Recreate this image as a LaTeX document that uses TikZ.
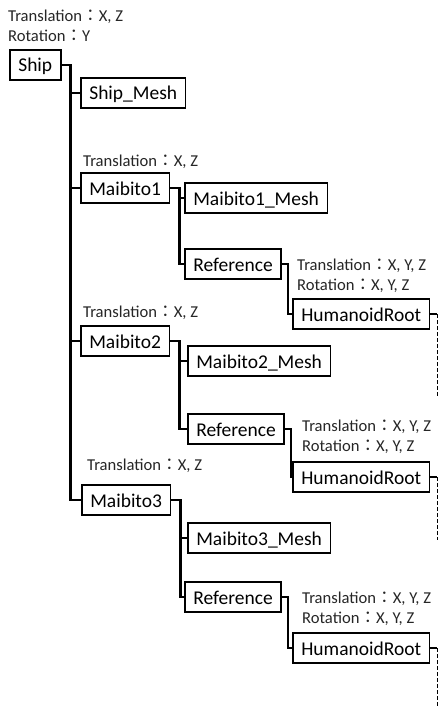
\documentclass[tikz,border=0pt]{standalone}
\usepackage{fontspec}
\setmainfont{Carlito}
\newfontfamily\cjk{Noto Sans CJK JP}
\usepackage{tikz}
\usetikzlibrary{calc}
\newcommand{\fwc}{{\cjk ：}}
\tikzset{
	objbox/.style={draw, line width=1.6pt, anchor=west, font=\fontsize{19.5}{20}\selectfont,
		inner xsep=8.5pt, inner ysep=5pt, text height=17pt, text depth=3pt, minimum height=30pt},
	conn/.style={line width=2.8pt},
	dashline/.style={line width=1.1pt, dash pattern=on 4pt off 2pt},
	attr/.style={anchor=base west, inner sep=0pt, text=black!85, font=\fontsize{16.6}{20}\selectfont}
}

\begin{document}
\begin{tikzpicture}[x=1pt, y=-1pt]
			%%%%% START %%%%%
			\useasboundingbox (0, 0) rectangle (441, 714);
			
			\node[attr] (shipt) at (8, 22) {Translation\fwc X, Z};
			\node[attr] (shipr) at (8, 42) {Rotation\fwc Y};
			\node[objbox] (ship) at (9, 65) {Ship};
			\node[objbox] (mesh0) at (80, 93) {Ship\_Mesh};
			
			\node[attr] (m1t) at (83, 167) {Translation\fwc X, Z};
			\node[objbox] (m1) at (80, 188) {Maibito1};
			\node[objbox] (mesh1) at (184, 198) {Maibito1\_Mesh};
			\node[objbox] (ref1) at (184, 264) {Reference};
			\node[attr] (r1t) at (297, 270) {Translation\fwc X, Y, Z};
			\node[attr] (r1r) at (297, 290) {Rotation\fwc X, Y, Z};
			\node[objbox] (hr1) at (292, 314) {HumanoidRoot};
			
			\node[attr] (m2t) at (83, 317) {Translation\fwc X, Z};
			\node[objbox] (m2) at (80, 341) {Maibito2};
			\node[objbox] (mesh2) at (187, 361) {Maibito2\_Mesh};
			\node[objbox] (ref2) at (187, 429) {Reference};
			\node[attr] (r2t) at (302, 431) {Translation\fwc X, Y, Z};
			\node[attr] (r2r) at (302, 451) {Rotation\fwc X, Y, Z};
			\node[objbox] (hr2) at (292, 477) {HumanoidRoot};
			
			\node[attr] (m3t) at (87, 470) {Translation\fwc X, Z};
			\node[objbox] (m3) at (81, 500) {Maibito3};
			\node[objbox] (mesh3) at (187, 538) {Maibito3\_Mesh};
			\node[objbox] (ref3) at (184, 597) {Reference};
			\node[attr] (r3t) at (302, 603) {Translation\fwc X, Y, Z};
			\node[attr] (r3r) at (302, 623) {Rotation\fwc X, Y, Z};
			\node[objbox] (hr3) at (292, 648) {HumanoidRoot};
			
			% trunk of Ship
			\foreach \c in {mesh0, m1, m2, m3}
				\draw[conn] (ship.east) -- ++(9, 0) |- (\c.west);
			
			% Maibito branches
			\foreach \m/\a/\b in {m1/mesh1/ref1, m2/mesh2/ref2, m3/mesh3/ref3}{
				\draw[conn] (\m.east) -- ++(9, 0) |- (\a.west);
				\draw[conn] (\m.east) -- ++(9, 0) |- (\b.west);
			}
			
			\foreach \r/\h in {ref1/hr1, ref2/hr2, ref3/hr3}
				\draw[conn] (\r.east) -- ++(6, 0) |- (\h.west);
			
			% cut off chains
			\foreach \h/\l in {hr1/82, hr2/63, hr3/58}{
				\draw[conn] (\h.east) -- ++(7, 0) coordinate (\h-end);
				\draw[dashline] (\h-end) -- ++(0, \l);
			}
			
			%%%%% END %%%%%
		\end{tikzpicture}
\end{document}
